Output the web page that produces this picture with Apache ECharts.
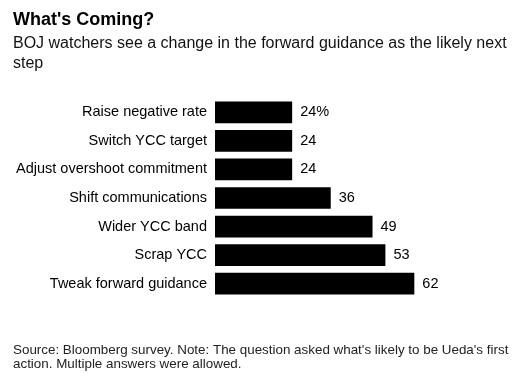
<!DOCTYPE html>
<html>
<head>
<meta charset="utf-8">
<script src="https://cdn.jsdelivr.net/npm/echarts@6/dist/echarts.min.js"></script>
<style>
html,body{margin:0;padding:0;background:#fff;}
#chart{width:524px;height:391px;}
</style>
</head>
<body>
<div id="chart"></div>
<script>
var categories = ["Raise negative rate", "Switch YCC target", "Adjust overshoot commitment", "Shift communications", "Wider YCC band", "Scrap YCC", "Tweak forward guidance"];
var values = [24, 24, 24, 36, 49, 53, 62];
var titleText = "What's Coming?";
var subtitleText = "BOJ watchers see a change in the forward guidance as the likely next\nstep";
var footnoteText = "Source: Bloomberg survey. Note: The question asked what's likely to be Ueda's first\naction. Multiple answers were allowed.";

var chart = echarts.init(document.getElementById('chart'), null, {renderer: 'canvas'});
var FONT = 'Liberation Sans, Arial, sans-serif';
chart.setOption({
  animation: false,
  backgroundColor: '#fff',
  title: [
    {text: titleText, left: 8, top: 6, textStyle: {fontFamily: FONT, fontSize: 18, fontWeight: 'bold', color: '#000'}},
    {text: subtitleText, left: 8, top: 29, textStyle: {fontFamily: FONT, fontSize: 16, fontWeight: 'normal', color: '#111', lineHeight: 20}},
    {text: footnoteText, left: 8, top: 338, textStyle: {fontFamily: FONT, fontSize: 13.4, fontWeight: 'normal', color: '#222', lineHeight: 14}}
  ],
  grid: {left: 215, top: 98, height: 200, width: 257.2, containLabel: false},
  xAxis: {type: 'value', min: 0, max: 80, show: false},
  yAxis: {
    type: 'category', data: categories, inverse: true,
    axisLine: {show: false}, axisTick: {show: false}, splitLine: {show: false},
    axisLabel: {fontFamily: FONT, fontSize: 14.5, color: '#000', margin: 8}
  },
  series: [{
    type: 'bar', data: values, barCategoryGap: '24%',
    itemStyle: {color: '#000'},
    label: {
      show: true, position: 'right', distance: 8,
      fontFamily: FONT, fontSize: 14.5, color: '#000',
      formatter: function (p) { return p.dataIndex === 0 ? p.value + '%' : String(p.value); }
    }
  }]
});
</script>
</body>
</html>
